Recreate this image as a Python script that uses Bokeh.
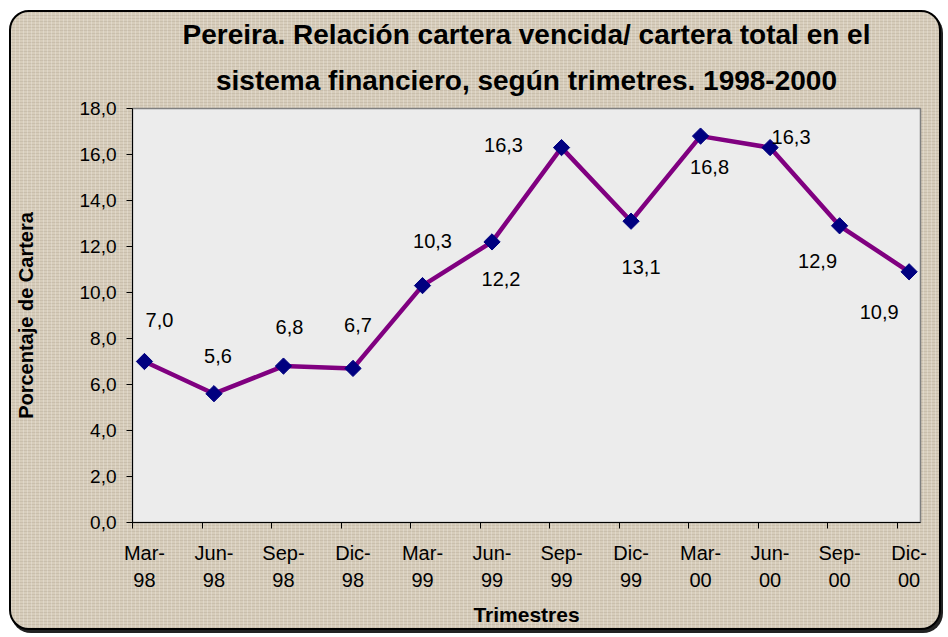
from bokeh.plotting import figure
from bokeh.models import ColumnDataSource, FixedTicker, Title
from bokeh.embed import file_html
from bokeh.resources import INLINE
from bokeh.core.properties import value

# ---- data ----
months = ["Mar-", "Jun-", "Sep-", "Dic-", "Mar-", "Jun-", "Sep-", "Dic-", "Mar-", "Jun-", "Sep-", "Dic-"]
years = ["98", "98", "98", "98", "99", "99", "99", "99", "00", "00", "00", "00"]
ratio = [7.0, 5.6, 6.8, 6.7, 10.3, 12.2, 16.3, 13.1, 16.8, 16.3, 12.9, 10.9]
y_ticks = [0, 2, 4, 6, 8, 10, 12, 14, 16, 18]
y_tick_labels = ["0,0", "2,0", "4,0", "6,0", "8,0", "10,0", "12,0", "14,0", "16,0", "18,0"]
title_lines = ["Pereira. Relación cartera vencida/ cartera total en el",
               "sistema financiero, según trimetres. 1998-2000"]
x_title = "Trimestres"
y_title = "Porcentaje de Cartera"

# ---- style: data-label placement (pixels) ----
label_dx = [15, 4, 6, 5, 10, 9, -58, 10, 9, 21, -22, -30]
label_dy = [-42, -38, -39, -43, -45, 37, -3, 46, 31, -11, 35, 40]

FONT = "Liberation Sans"
n = len(ratio)
xs = list(range(n))
src = ColumnDataSource(dict(
    x=xs, y=ratio,
    txt=[f"{v:.1f}".replace(".", ",") for v in ratio],
    dx=label_dx, dy=label_dy,
))

p = figure(width=932, height=620, output_backend="svg", toolbar_location=None,
           x_range=(-0.172, 11.164), y_range=(0, 18),
           min_border_left=120, min_border_right=23,
           min_border_top=96, min_border_bottom=110)

p.styles = {
    "margin-left": "9px",
    "margin-top": "10px",
    "background-color": "#d7cdbb",
    "background-image": (
        "repeating-linear-gradient(90deg, rgba(255,255,255,0.22) 0px, rgba(255,255,255,0.22) 1px, transparent 1px, transparent 4px),"
        "repeating-linear-gradient(0deg, rgba(110,95,75,0.13) 0px, rgba(110,95,75,0.13) 1px, transparent 1px, transparent 3px)"
    ),
    "border": "2px solid #000",
    "border-radius": "20px",
    "box-shadow": "2px 3px 0px #222",
}
p.border_fill_color = None
p.background_fill_color = "#ececec"
p.outline_line_color = "#808080"
p.outline_line_width = 1.5
p.grid.visible = False

# titles (stacked: the one added first sits nearest the frame)
title_standoffs = [0, 26]
for line, so in reversed(list(zip(title_lines, title_standoffs))):
    p.add_layout(Title(text=line, align="center", text_font=FONT,
                       text_font_size="28px", text_font_style="bold",
                       text_color="black", standoff=so), "above")

# y axis
p.yaxis.ticker = FixedTicker(ticks=y_ticks)
p.yaxis.major_label_overrides = {t: l for t, l in zip(y_ticks, y_tick_labels)}
p.yaxis.major_label_text_font = FONT
p.yaxis.major_label_text_font_size = "19px"
p.yaxis.major_label_text_color = "black"
p.yaxis.major_tick_in = 0
p.yaxis.major_tick_out = 6
p.yaxis.minor_tick_line_color = None
p.yaxis.major_label_standoff = 10
p.yaxis.axis_line_color = "black"
p.yaxis.major_tick_line_color = "black"
p.yaxis.axis_label = y_title
p.yaxis.axis_label_text_font = FONT
p.yaxis.axis_label_text_font_size = "20px"
p.yaxis.axis_label_text_font_style = "bold"
p.yaxis.axis_label_text_color = "black"
p.yaxis.axis_label_standoff = 40

# x axis: labels at categories, tick marks at category boundaries (minor ticks)
p.xaxis.ticker = FixedTicker(ticks=xs, minor_ticks=[i - 0.172 for i in xs])
p.xaxis.major_label_overrides = {i: f"{m}\n{y}" for i, (m, y) in enumerate(zip(months, years))}
p.xaxis.major_label_text_font = FONT
p.xaxis.major_label_text_font_size = "20px"
p.xaxis.major_label_text_color = "black"
p.xaxis.major_label_text_line_height = 1.25
p.xaxis.major_label_standoff = 13
p.xaxis.major_tick_line_color = None
p.xaxis.major_tick_in = 0
p.xaxis.major_tick_out = 0
p.xaxis.minor_tick_in = 0
p.xaxis.minor_tick_out = 6
p.xaxis.minor_tick_line_color = "black"
p.xaxis.axis_line_color = "black"
p.xaxis.axis_label = x_title
p.xaxis.axis_label_text_font = FONT
p.xaxis.axis_label_text_font_size = "21px"
p.xaxis.axis_label_text_font_style = "bold"
p.xaxis.axis_label_text_color = "black"
p.xaxis.axis_label_standoff = 9

# series
p.line("x", "y", source=src, line_color="#800080", line_width=4.5)
p.scatter("x", "y", source=src, marker="square", size=11.5, angle=0.785398,
          fill_color="#000080", line_color="#000080")
p.text("x", "y", text="txt", source=src, x_offset="dx", y_offset="dy",
       text_align="center", text_baseline="middle",
       text_font=value(FONT), text_font_size="20px", text_color="black")

open("out.html", "w").write(file_html(p, INLINE))
